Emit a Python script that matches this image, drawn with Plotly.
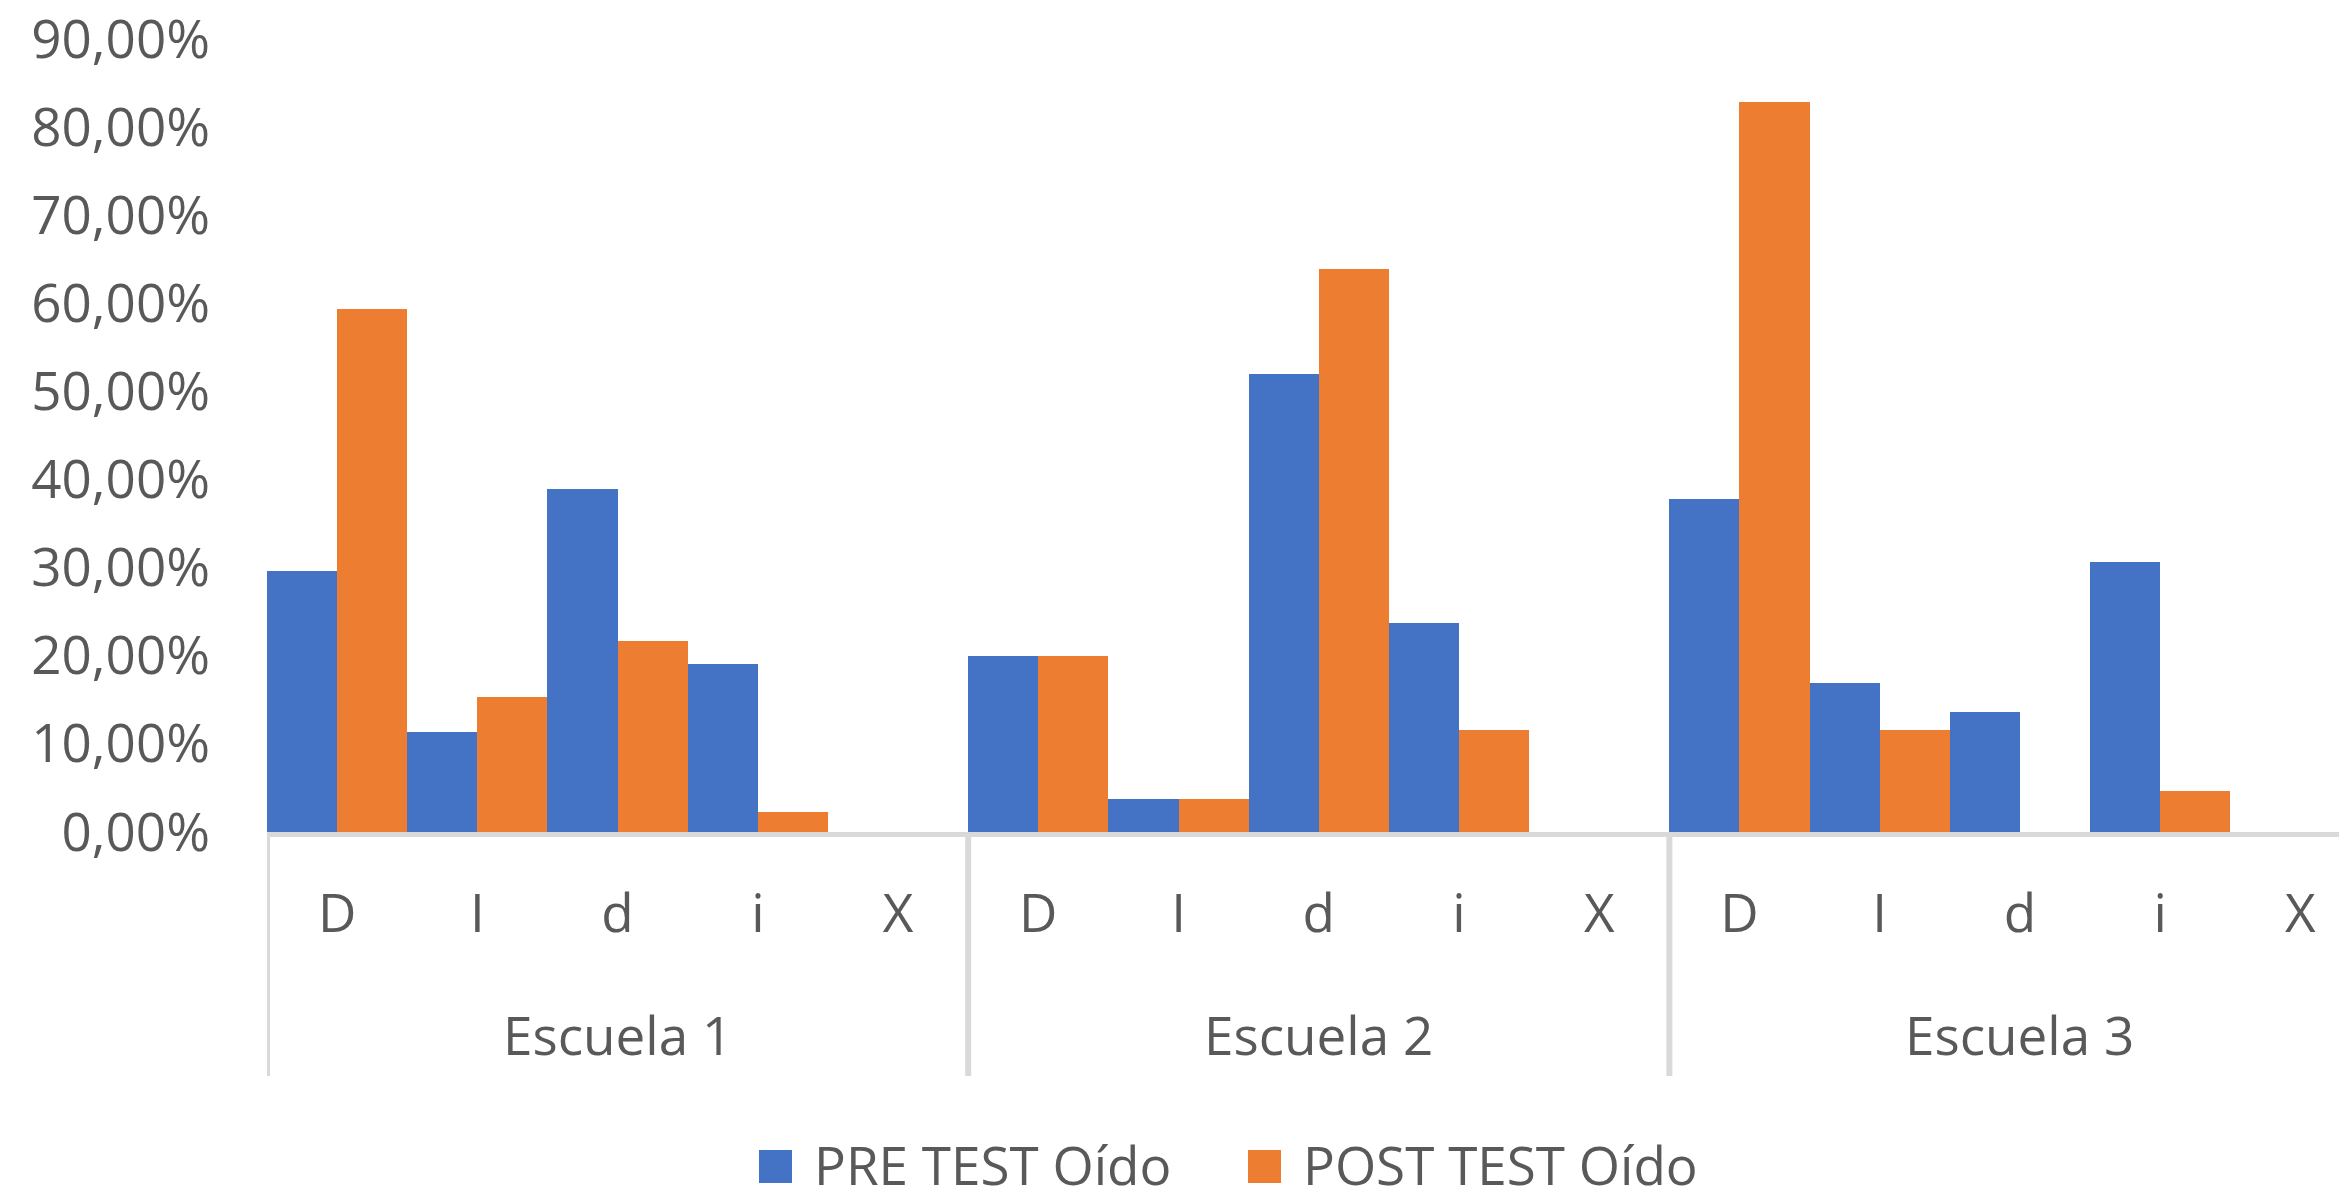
import plotly.graph_objects as go

# ---- data ----
schools = ["Escuela 1", "Escuela 2", "Escuela 3"]
categories = ["D", "I", "d", "i", "X"]
series_names = ["PRE TEST Oído", "POST TEST Oído"]
pre_values = [0.296, 0.113, 0.389, 0.191, 0.0,
              0.200, 0.038, 0.520, 0.237, 0.0,
              0.378, 0.169, 0.136, 0.307, 0.0]
post_values = [0.594, 0.153, 0.217, 0.023, 0.0,
               0.200, 0.038, 0.639, 0.116, 0.0,
               0.829, 0.116, 0.0, 0.046, 0.0]
y_ticks = [0.0, 0.1, 0.2, 0.3, 0.4, 0.5, 0.6, 0.7, 0.8, 0.9]

colors = ["#4472C4", "#ED7D31"]
text_color = "#595959"
axis_gray = "#D9D9D9"
FONT = "Open Sans"
FS = 53

W, H = 2339, 1190
L, R, T, B = 267, 0, 39, 358
PW, PH = W - L - R, H - T - B

n_cat = len(categories)
x_pos = list(range(len(schools) * n_cat))
x_labels = [c for _ in schools for c in categories]


def px_x(px):
    return (px - L) / PW


def px_y(py):
    return (H - B - py) / PH


fig = go.Figure()
for name, vals, col in zip(series_names, [pre_values, post_values], colors):
    fig.add_trace(go.Bar(x=x_pos, y=vals, name=name,
                         marker=dict(color=col, line=dict(width=0)),
                         showlegend=False))

fig.update_layout(
    width=W, height=H,
    margin=dict(l=L, r=R, t=T, b=B, pad=0),
    barmode="group", bargap=0, bargroupgap=0,
    separators=",.",
    plot_bgcolor="white", paper_bgcolor="white",
    font=dict(family=FONT, size=FS, color=text_color),
    showlegend=False,
)
fig.update_xaxes(
    range=[-0.5, 14.275],
    tickvals=x_pos, ticktext=x_labels,
    showline=True, linewidth=5, linecolor=axis_gray,
    ticks="", showgrid=False, zeroline=False,
    tickfont=dict(family=FONT, size=FS, color=text_color),
    ticklabelstandoff=31,
)
fig.update_yaxes(
    range=[0, 0.9], tickvals=y_ticks, tickformat=".2%",
    showgrid=False, zeroline=False, showline=False, ticks="",
    tickfont=dict(family=FONT, size=FS, color=text_color),
    ticklabelstandoff=56,
)

# group dividers and group labels (second category level)
for k, school in enumerate(schools):
    left_edge = k * n_cat - 0.5
    fig.add_shape(type="line", xref="x", yref="paper",
                  x0=left_edge, x1=left_edge,
                  y0=px_y(832), y1=px_y(1076),
                  line=dict(color=axis_gray, width=6))
    fig.add_annotation(xref="x", yref="paper",
                       x=k * n_cat + (n_cat - 1) / 2, y=px_y(1034),
                       xanchor="center", yanchor="middle", showarrow=False,
                       text=school,
                       font=dict(family=FONT, size=FS, color=text_color))

# manual legend (large square keys like the original)
legend_items = [(759, 812), (1248, 1301)]
for (sq_x, tx), name, col in zip(legend_items, series_names, colors):
    fig.add_shape(type="rect", xref="paper", yref="paper",
                  x0=px_x(sq_x), x1=px_x(sq_x + 33),
                  y0=px_y(1183), y1=px_y(1150),
                  fillcolor=col, line=dict(width=0))
    fig.add_annotation(xref="paper", yref="paper", x=px_x(tx), y=px_y(1164),
                       xanchor="left", yanchor="middle", showarrow=False,
                       text=name, font=dict(family=FONT, size=FS, color=text_color))

fig.write_html("out.html", config={"displayModeBar": False},
               post_script="document.body.style.margin='0';")
